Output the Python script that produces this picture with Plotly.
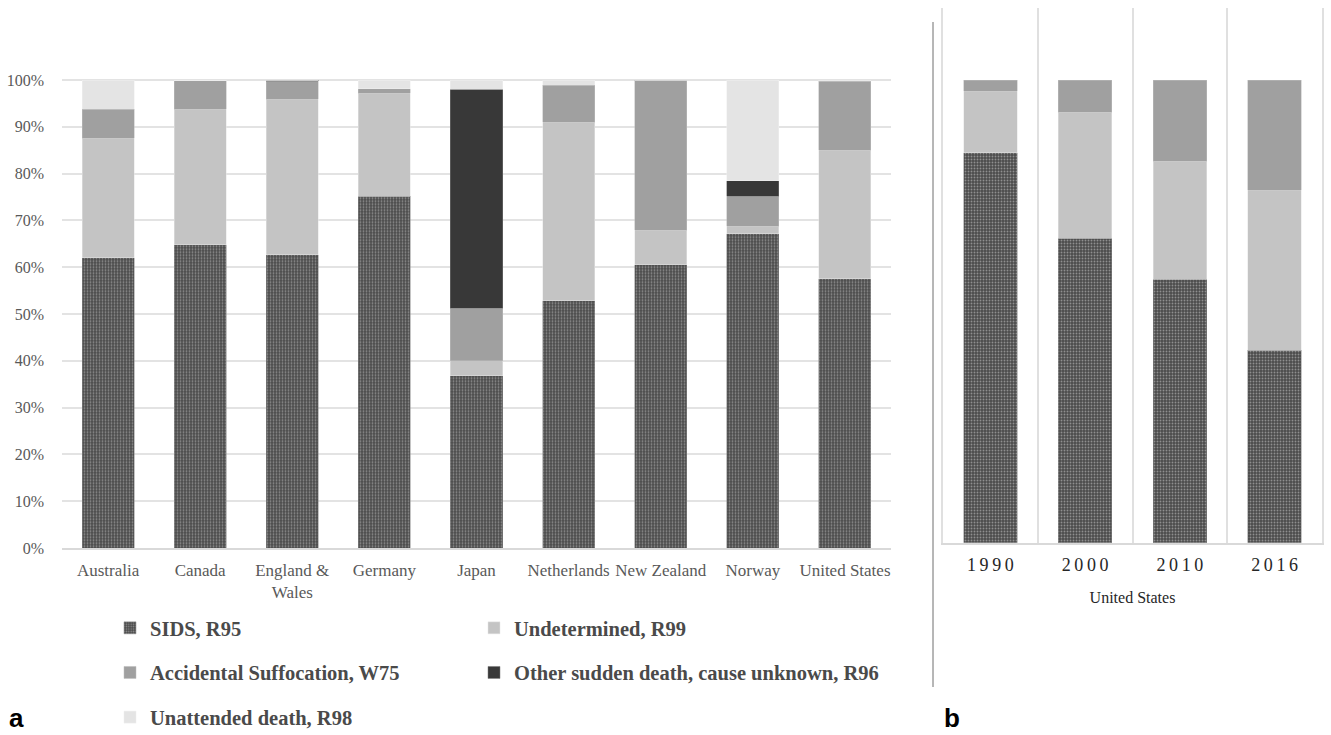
import plotly.graph_objects as go

# ---- data (panel a) ----
countries = ["Australia", "Canada", "England & Wales", "Germany", "Japan",
             "Netherlands", "New Zealand", "Norway", "United States"]
country_ticktext = ["Australia", "Canada", "England &<br>Wales", "Germany", "Japan",
                    "Netherlands", "New Zealand", "Norway", "United States"]
sids = [62.0, 64.8, 62.7, 75.2, 36.8, 52.8, 60.5, 67.2, 57.5]
undetermined = [25.6, 29.0, 33.2, 22.0, 3.2, 38.2, 7.4, 1.5, 27.5]
accidental = [6.2, 6.0, 3.8, 0.9, 11.2, 7.9, 32.1, 6.5, 14.7]
other_sudden = [0.0, 0.0, 0.3, 0.0, 46.8, 0.0, 0.0, 3.3, 0.0]
unattended = [6.2, 0.2, 0.0, 1.9, 2.0, 1.1, 0.0, 21.5, 0.3]

y_ticks = [0, 10, 20, 30, 40, 50, 60, 70, 80, 90, 100]
y_ticktext = ["%d%%" % v for v in y_ticks]

# ---- data (panel b, United States) ----
years = ["1990", "2000", "2010", "2016"]
us_sids = [84.3, 65.8, 57.0, 41.6]
us_undetermined = [13.3, 27.3, 25.5, 34.6]
us_accidental = [2.4, 6.9, 17.5, 23.8]

series_names = ["SIDS, R95", "Undetermined, R99", "Accidental Suffocation, W75",
                "Other sudden death, cause unknown, R96", "Unattended death, R98"]

W, H = 1331, 735
SERIF = "Liberation Serif"

def px_x(v):
    return v / W

def px_y(v):
    return 1 - v / H

sids_marker = dict(color="#4e4e4e",
                   pattern=dict(shape=".", bgcolor="#4b4b4b", fgcolor="#d4d4d4",
                                size=3, solidity=0.3, fillmode="overlay"),
                   line=dict(color="#8a8a8a", width=0.5))
und_marker = dict(color="#c4c4c4", line=dict(color="#e6e6e6", width=0.5))
acc_marker = dict(color="#a0a0a0", line=dict(color="#bdbdbd", width=0.5))
oth_marker = dict(color="#383838", line=dict(color="#7a7a7a", width=0.5))
una_marker = dict(color="#e4e4e4", line=dict(color="#efefef", width=0.5))

fig = go.Figure()

left_series = [
    (series_names[0], sids, sids_marker, "legend"),
    (series_names[1], undetermined, und_marker, "legend2"),
    (series_names[2], accidental, acc_marker, "legend"),
    (series_names[3], other_sudden, oth_marker, "legend2"),
    (series_names[4], unattended, una_marker, "legend"),
]
for i, (name, vals, mk, lg) in enumerate(left_series):
    fig.add_trace(go.Bar(x=countries, y=vals, name=name, marker=mk,
                         xaxis="x", yaxis="y", legend=lg, legendgroup="g%d" % i,
                         hoverinfo="x+y+name"))

right_series = [
    (series_names[0], us_sids, sids_marker),
    (series_names[1], us_undetermined, und_marker),
    (series_names[2], us_accidental, acc_marker),
]
for name, vals, mk in right_series:
    fig.add_trace(go.Bar(x=years, y=vals, name=name, marker=mk,
                         xaxis="x2", yaxis="y2", showlegend=False))

x_tick_font = dict(family=SERIF, size=17, color="#595959")
y_tick_font = dict(family=SERIF, size=16, color="#595959")
year_ticktext = ["\u2009".join(list(y)) for y in years]

legend_common = dict(orientation="v", xanchor="left", yanchor="top",
                     bgcolor="rgba(0,0,0,0)", traceorder="grouped",
                     tracegroupgap=15, itemwidth=30,
                     font=dict(family=SERIF, size=20.5, color="#4a4a4a", weight="bold"))

fig.update_layout(
    width=W, height=H,
    margin=dict(l=0, r=0, t=0, b=0, autoexpand=False),
    paper_bgcolor="white", plot_bgcolor="white",
    barmode="stack", bargap=0.435,
    showlegend=True,
    legend=dict(x=px_x(110), y=px_y(608), **legend_common),
    legend2=dict(x=px_x(474), y=px_y(608), **legend_common),
    xaxis=dict(domain=[px_x(62), px_x(891)], type="category",
               tickvals=countries, ticktext=country_ticktext,
               showgrid=False, showline=True, linecolor="#d9d9d9", linewidth=1.5,
               ticks="", ticklabelstandoff=6, tickfont=x_tick_font, anchor="y",
               fixedrange=True),
    yaxis=dict(domain=[px_y(548), px_y(548 - 102 * 4.68)], range=[0, 102],
               tickvals=y_ticks, ticktext=y_ticktext,
               showgrid=True, gridcolor="#e3e3e3", gridwidth=1.5, zeroline=False,
               showline=False, ticks="", ticklabelstandoff=17, tickfont=y_tick_font,
               anchor="x", fixedrange=True),
    xaxis2=dict(domain=[px_x(943), px_x(1322)], type="category",
                tickvals=years, ticktext=year_ticktext, tickson="boundaries",
                range=[-0.5, 3.5],
                showgrid=True, gridcolor="#e0e0e0", gridwidth=1.5,
                showline=True, linecolor="#d9d9d9", linewidth=1.5,
                ticks="", ticklabelstandoff=5,
                tickfont=dict(family=SERIF, size=18, color="#262626"),
                title=dict(text="United States", standoff=18,
                           font=dict(family=SERIF, size=16, color="#262626")),
                anchor="y2", fixedrange=True),
    yaxis2=dict(domain=[px_y(542.7), px_y(8)], range=[0, 115.6],
                showticklabels=False, showgrid=False, zeroline=False, ticks="",
                showline=True, mirror=True, linecolor="#e0e0e0", linewidth=1.5,
                anchor="x2", fixedrange=True),
    annotations=[
        dict(text="a", x=px_x(16), y=px_y(718), xref="paper", yref="paper",
             showarrow=False, xanchor="center", yanchor="middle",
             font=dict(family="Liberation Sans", size=26, color="black", weight="bold")),
        dict(text="b", x=px_x(952), y=px_y(718), xref="paper", yref="paper",
             showarrow=False, xanchor="center", yanchor="middle",
             font=dict(family="Liberation Sans", size=26, color="black", weight="bold")),
    ],
    shapes=[
        dict(type="line", xref="paper", yref="paper",
             x0=px_x(933), x1=px_x(933), y0=px_y(22), y1=px_y(687),
             line=dict(color="#6e6e6e", width=1)),
    ],
)

fig.write_html("out.html", config={"displayModeBar": False},
               post_script="document.body.style.margin='0px';")
